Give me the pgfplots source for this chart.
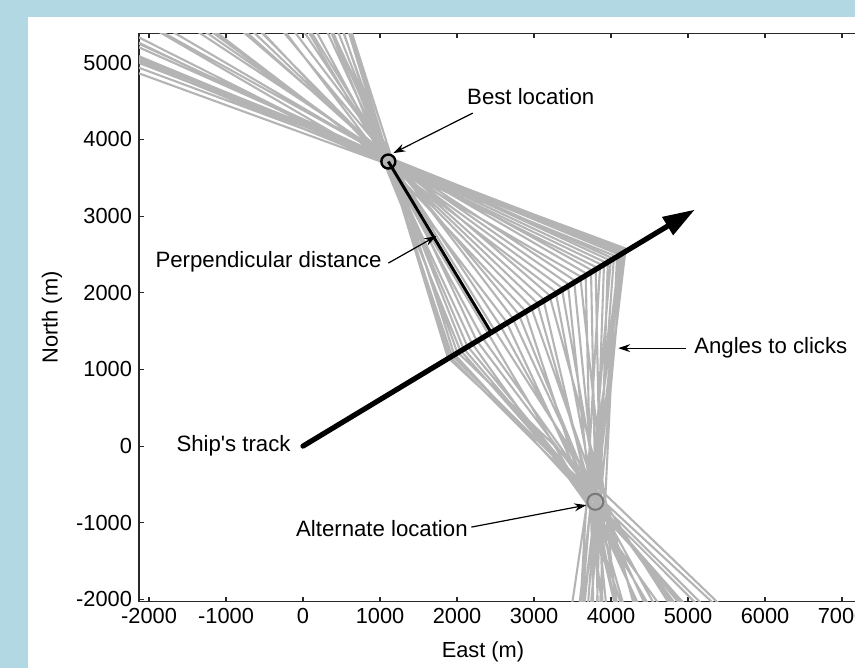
\documentclass[border=0pt]{standalone}
\usepackage{pgfplots}
\pgfplotsset{compat=1.18}
\usetikzlibrary{arrows.meta}
\usepackage{fontspec}
\setmainfont{Liberation Sans}
\definecolor{bgblue}{RGB}{178,216,228}
\definecolor{linegray}{RGB}{180,180,180}
\definecolor{altgray}{RGB}{120,120,120}
\definecolor{axisgray}{RGB}{40,40,40}
\begin{document}
\begin{tikzpicture}
\useasboundingbox (0,0) rectangle (427.5pt,334pt);
\fill[bgblue] (0,0) rectangle (427.5pt,334pt);
\fill[white] (14pt,0) rectangle (427.5pt,325.5pt);
\clip (0,0) rectangle (427.5pt,334pt);
\begin{axis}[
  at={(69.5pt,33.15pt)}, anchor=south west,
  scale only axis, width=390pt, height=284.2pt,
  xmin=-2130, xmax=8000, ymin=-2030, ymax=5385,
  xtick={-2000,-1000,...,8000}, ytick={-2000,-1000,...,5000},
  scaled ticks=false,
  /pgf/number format/1000 sep={},
  /pgf/number format/assume math mode=true,
  tick align=inside, major tick length=2.5pt,
  ticklabel style={font=\fontsize{10.9}{12}\selectfont},
  label style={font=\fontsize{10.9}{12}\selectfont},
  xlabel={East (m)}, ylabel={North (m)},
  xlabel style={at={(axis description cs:0.441,-0.0885)}, anchor=center},
  ylabel style={at={(axis description cs:-0.1115,0.5)}, anchor=center},
  axis line style={axisgray, line width=0.55pt},
  tick style={axisgray, line width=0.55pt},
  unbounded coords=jump,
  clip=true,
]
% bearing lines to clicks: far end beyond best location, click on track, far end beyond alternate location
\addplot[linegray, line width=1.05pt, line join=round] coordinates {
(-460,8878) (1880,1156) (6980,-3584) (nan,nan)
(-410,8732) (1900,1169) (6500,-3454) (nan,nan)
(-650,8936) (1930,1187) (6755,-3631) (nan,nan)
(-440,8780) (1960,1205) (6560,-3808) (nan,nan)
(-700,8850) (2000,1230) (7100,-3695) (nan,nan)
(-960,8680) (2040,1255) (6290,-3583) (nan,nan)
(-770,8512) (2080,1279) (6380,-3769) (nan,nan)
(-960,8570) (2130,1310) (6455,-3965) (nan,nan)
(-1170,8616) (2190,1347) (5915,-3871) (nan,nan)
(-1020,8422) (2250,1384) (6125,-3776) (nan,nan)
(-1340,8216) (2320,1427) (6170,-3991) (nan,nan)
(-1680,8358) (2400,1476) (5750,-4214) (nan,nan)
(-1570,8140) (2480,1525) (6080,-4138) (nan,nan)
(-1820,8162) (2560,1574) (5660,-4061) (nan,nan)
(-2070,7822) (2640,1624) (5390,-4286) (nan,nan)
(-1960,7844) (2720,1673) (5570,-4510) (nan,nan)
(-2300,7866) (2800,1722) (5300,-4433) (nan,nan)
(-2640,7648) (2880,1771) (4880,-4357) (nan,nan)
(-2530,7430) (2960,1820) (5210,-4580) (nan,nan)
(-2780,7450) (3040,1870) (4940,-4805) (nan,nan)
(-3030,7472) (3120,1919) (4670,-4729) (nan,nan)
(-2920,7254) (3200,1968) (5000,-4652) (nan,nan)
(-3260,7036) (3280,2017) (4580,-4876) (nan,nan)
(-3600,7178) (3360,2066) (4610,-5099) (nan,nan)
(-3490,6958) (3440,2116) (4190,-5024) (nan,nan)
(-3740,6980) (3520,2165) (4220,-4948) (nan,nan)
(-3990,6642) (3600,2214) (4400,-5171) (nan,nan)
(-3860,6676) (3670,2257) (3845,-5386) (nan,nan)
(-4180,6710) (3740,2300) (3890,-5300) (nan,nan)
(-4480,6516) (3800,2337) (3950,-5206) (nan,nan)
(-4330,6322) (3860,2374) (3410,-5411) (nan,nan)
(-4520,6380) (3910,2405) (3635,-5608) (nan,nan)
(-4710,6440) (3960,2435) (3710,-5503) (nan,nan)
(-4520,6270) (4000,2460) (3350,-5390) (nan,nan)
(-4780,6100) (4040,2485) (3440,-5578) (nan,nan)
(-5040,6292) (4080,2509) (3680,-5764) (nan,nan)
(-4830,6134) (4110,2528) (3185,-5642) (nan,nan)
(-4980,6218) (4140,2546) (3290,-5519) (nan,nan)
(-5110,5954) (4160,2558) (3410,-5687) (nan,nan)
(-4870,6054) (4175,2568) (2938,-5852) (nan,nan)
(-5080,6036) (4190,2577) (3215,-5716)
};
% perpendicular distance
\addplot[black, line width=1.5pt] coordinates {(1108,3712) (2432,1500)};
% ship's track
\addplot[black, line width=2.6pt, line cap=round, -{Triangle[length=16pt,width=10pt]}] coordinates {(0,0) (5090,3085)};
% best and alternate locations
\addplot[only marks, mark=o, mark size=3.5pt, mark options={line width=1.2pt, draw=black}] coordinates {(1108,3712)};
\addplot[only marks, mark=o, mark size=4pt, mark options={line width=1pt, draw=altgray}] coordinates {(3796,-727)};
% annotations
\draw[black, line width=0.6pt, -{Stealth[length=6pt,width=4pt]}] (axis cs:2204,4344) -- (axis cs:1173,3822);
\node[font=\fontsize{11.1}{13}\selectfont, anchor=center] at (axis cs:2958,4566) {Best location};
\draw[black, line width=0.6pt, -{Stealth[length=6pt,width=4pt]}] (axis cs:1108,2387) -- (axis cs:1730,2740);
\node[font=\fontsize{11.1}{13}\selectfont, anchor=east] at (axis cs:1110,2400) {Perpendicular distance};
\draw[black, line width=0.6pt, -{Stealth[length=6pt,width=4pt]}] (axis cs:4977,1278) -- (axis cs:4094,1278);
\node[font=\fontsize{11.1}{13}\selectfont, anchor=west] at (axis cs:4990,1278) {Angles to clicks};
\node[font=\fontsize{11.1}{13}\selectfont, anchor=east] at (axis cs:-70,0) {Ship\textquotesingle s track};
\draw[black, line width=0.6pt, -{Stealth[length=6pt,width=4pt]}] (axis cs:2186,-1057) -- (axis cs:3679,-770);
\node[font=\fontsize{11.1}{13}\selectfont, anchor=east] at (axis cs:2230,-1070) {Alternate location};
\end{axis}
\end{tikzpicture}
\end{document}
